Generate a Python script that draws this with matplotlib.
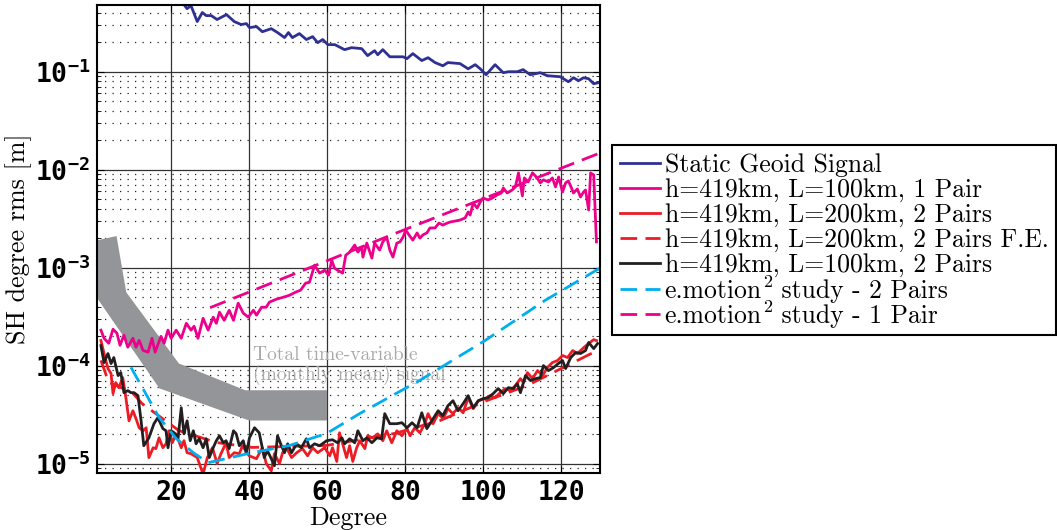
import numpy as np
import matplotlib
matplotlib.use("Agg")
import matplotlib.pyplot as plt
from matplotlib.ticker import FixedLocator, NullFormatter

plt.rcParams['mathtext.fontset'] = 'custom'
plt.rcParams['mathtext.rm'] = 'DejaVu Sans Mono:bold'
plt.rcParams['mathtext.default'] = 'rm'

# static geoid signal
geoid_deg = [22, 23.3, 24.1, 25.1, 26.7, 28.0, 29.0, 30.3, 31.8, 34.2, 36.2, 38.0, 39.3, 40.1, 41.9,
             43.4, 45.7, 47.3, 49.1, 50.1, 51.1, 52.9, 54.7, 56.3, 57.6, 58.9, 60.2, 62.0, 64.5,
             66.3, 68.9, 70.4, 72.2, 73.0, 74.3, 76.1, 79.5, 80.5, 82.0, 84.3, 85.9, 87.7, 89.7,
             91.0, 94.1, 96.2, 98.0, 99.3, 100.8, 103.1, 105.2, 106.5, 108.8, 110.3, 112.1, 114.7,
             116.5, 119.8, 121.9, 123.2, 124.5, 125.8, 127.1, 128.4, 129.4]
geoid_val = [0.56, 0.484, 0.440, 0.473, 0.325, 0.402, 0.374, 0.374, 0.341, 0.383, 0.325, 0.303, 0.310,
             0.282, 0.289, 0.256, 0.275, 0.251, 0.223, 0.251, 0.223, 0.245, 0.213, 0.228, 0.198,
             0.213, 0.189, 0.189, 0.168, 0.176, 0.172, 0.146, 0.164, 0.149, 0.168, 0.142, 0.142,
             0.136, 0.153, 0.130, 0.139, 0.124, 0.115, 0.124, 0.121, 0.107, 0.118, 0.107, 0.0932,
             0.118, 0.0977, 0.1, 0.1, 0.105, 0.0932, 0.0977, 0.091, 0.0889, 0.079, 0.0868, 0.081,
             0.0868, 0.0848, 0.0754, 0.077]

# h=419km, L=100km, 1 pair
p1_deg = [2.0, 2.8, 4.0, 5.1, 6.1, 6.9, 7.9, 8.9, 10.2, 11.0, 11.8, 12.8, 14.1, 15.1, 15.9, 17.4,
          18.2, 19.2, 20.0, 21.3, 22.6, 23.9, 25.1, 25.9, 26.9, 28.2, 29.5, 30.8, 31.6, 32.4, 33.6,
          34.9, 36.0, 37.2, 38.5, 39.8, 41.1, 41.9, 43.2, 44.4, 45.2, 47.0, 48.8, 50.4, 51.9, 53.2,
          54.5, 55.5, 56.8, 58.1, 59.4, 60.4, 61.2, 61.9, 62.7, 64.0, 64.8, 65.8, 67.1, 67.9, 68.9,
          69.2, 70.2, 71.5, 72.2, 73.5, 74.3, 75.3, 76.1, 76.9, 77.9, 78.7, 79.5, 80.2, 81.0, 82.0,
          83.1, 83.8, 84.6, 85.6, 86.4, 87.7, 88.7, 89.7, 90.8, 91.6, 92.8, 94.1, 95.4, 96.2, 96.7,
          97.5, 98.5, 99.3, 100.0, 101.3, 102.4, 103.6, 104.7, 105.2, 106.2, 107.5, 108.3, 109.1,
          110.1, 110.6, 111.6, 112.7, 113.9, 114.7, 115.5, 116.8, 117.8, 118.6, 119.4, 120.4, 121.2,
          121.9, 122.7, 123.2, 124.2, 125.0, 125.8, 126.3, 127.1, 127.6, 128.4, 129.1]
p1_val = [2.30e-4, 1.90e-4, 1.69e-4, 2.35e-4, 2.14e-4, 1.61e-4, 2.04e-4, 1.54e-4, 1.90e-4, 1.54e-4,
          1.81e-4, 1.43e-4, 1.37e-4, 1.90e-4, 1.37e-4, 1.99e-4, 1.69e-4, 2.30e-4, 1.90e-4, 2.30e-4,
          1.90e-4, 2.70e-4, 2.30e-4, 2.52e-4, 1.90e-4, 3.04e-4, 2.30e-4, 3.12e-4, 2.70e-4, 3.51e-4,
          2.90e-4, 3.67e-4, 2.90e-4, 4.34e-4, 3.43e-4, 3.12e-4, 3.67e-4, 3.27e-4, 3.94e-4, 3.94e-4,
          4.44e-4, 4.76e-4, 4.99e-4, 5.23e-4, 5.61e-4, 5.88e-4, 6.94e-4, 7.10e-4, 1.06e-3, 8.79e-4,
          9.42e-4, 8.38e-4, 1.19e-3, 9.89e-4, 9.42e-4, 8.79e-4, 1.34e-3, 1.44e-3, 1.70e-3, 1.44e-3,
          1.62e-3, 1.28e-3, 1.78e-3, 1.25e-3, 1.78e-3, 1.51e-3, 1.83e-3, 2.05e-3, 1.51e-3, 1.28e-3,
          1.78e-3, 1.83e-3, 2.05e-3, 2.42e-3, 2.16e-3, 1.91e-3, 2.26e-3, 2.00e-3, 2.16e-3, 2.26e-3,
          2.54e-3, 2.54e-3, 2.85e-3, 2.72e-3, 2.85e-3, 2.92e-3, 2.99e-3, 3.06e-3, 3.21e-3, 3.70e-3,
          3.44e-3, 4.57e-3, 4.06e-3, 4.68e-3, 5.14e-3, 4.91e-3, 5.14e-3, 5.52e-3, 5.78e-3, 6.50e-3,
          5.78e-3, 6.21e-3, 6.67e-3, 9.27e-3, 5.40e-3, 8.24e-3, 7.50e-3, 9.27e-3, 8.24e-3, 7.33e-3,
          7.86e-3, 7.50e-3, 8.24e-3, 6.67e-3, 8.43e-3, 5.92e-3, 7.33e-3, 7.67e-3, 6.50e-3, 5.78e-3,
          6.35e-3, 5.26e-3, 5.92e-3, 6.21e-3, 3.87e-3, 9.27e-3, 8.83e-3, 1.83e-3]

# h=419km, L=200km, 2 pairs
p2_deg = [2.0, 2.8, 3.8, 4.6, 5.1, 5.8, 6.6, 7.6, 8.4, 9.2, 10.2, 11.0, 11.8, 12.8, 13.6, 14.3, 15.4,
          16.1, 16.9, 17.9, 18.7, 19.5, 20.3, 21.3, 22.6, 23.3, 24.1, 25.1, 26.7, 28.2, 29.3, 30.6,
          31.8, 32.8, 34.1, 34.9, 36.2, 37.5, 38.3, 40.0, 41.9, 43.4, 44.4, 45.7, 46.5, 47.8, 48.6,
          49.6, 50.9, 52.2, 53.7, 55.0, 56.3, 57.6, 59.4, 60.7, 61.4, 62.5, 63.2, 64.0, 65.0, 65.8,
          66.6, 67.6, 68.4, 69.7, 70.4, 71.7, 73.0, 74.3, 75.3, 76.6, 77.9, 79.2, 80.5, 81.3, 82.5,
          83.8, 85.1, 85.9, 87.2, 88.5, 89.8, 91.0, 92.3, 93.6, 94.9, 96.2, 97.5, 98.8, 100.6, 101.8,
          103.1, 104.4, 105.7, 107.0, 108.3, 109.6, 110.4, 111.4, 112.7, 114.0, 115.3, 116.5, 117.8,
          119.1, 120.4, 121.7, 123.0, 124.2, 125.8, 127.1, 128.4, 129.1]
p2_val = [1.80e-4, 1.33e-4, 9.32e-5, 8.29e-5, 5.17e-5, 6.70e-5, 5.95e-5, 7.54e-5, 4.70e-5, 2.73e-5,
          3.46e-5, 2.87e-5, 2.32e-5, 2.16e-5, 2.32e-5, 1.15e-5, 1.45e-5, 1.42e-5, 1.83e-5, 1.45e-5,
          1.59e-5, 2.16e-5, 1.63e-5, 2.01e-5, 1.45e-5, 1.71e-5, 1.29e-5, 1.26e-5, 1.15e-5, 7.8e-6,
          1.15e-5, 1.45e-5, 1.0e-5, 1.26e-5, 1.63e-5, 1.15e-5, 1.29e-5, 1.26e-5, 1.52e-5, 1.20e-5,
          1.12e-5, 1.45e-5, 1.0e-5, 8.43e-6, 1.26e-5, 1.0e-5, 1.29e-5, 1.45e-5, 1.15e-5, 1.29e-5,
          1.42e-5, 1.20e-5, 1.45e-5, 1.29e-5, 1.45e-5, 1.20e-5, 1.45e-5, 1.05e-5, 2.06e-5, 1.59e-5,
          1.15e-5, 1.52e-5, 1.05e-5, 1.45e-5, 1.71e-5, 1.42e-5, 1.92e-5, 1.83e-5, 2.01e-5, 1.71e-5,
          2.16e-5, 1.63e-5, 2.16e-5, 1.92e-5, 2.27e-5, 1.92e-5, 2.32e-5, 2.06e-5, 2.55e-5, 3.23e-5,
          2.55e-5, 3.23e-5, 2.87e-5, 3.63e-5, 3.23e-5, 3.71e-5, 3.30e-5, 4.70e-5, 3.63e-5, 4.38e-5,
          4.59e-5, 4.93e-5, 4.70e-5, 5.29e-5, 5.82e-5, 5.55e-5, 6.24e-5, 7.36e-5, 6.70e-5, 8.48e-5,
          7.36e-5, 8.89e-5, 7.90e-5, 9.54e-5, 1.073e-4, 1.125e-4, 1.266e-4, 1.208e-4, 1.424e-4,
          1.327e-4, 1.52e-4, 1.68e-4, 1.84e-4, 1.80e-4]

# h=419km, L=200km, 2 pairs F.E.
fe_deg = [2, 4, 10, 12.5, 22, 31.6, 40.8, 59.9, 77.4, 89, 101.1, 111.4, 120.7, 129.4]
fe_val = [1.13e-4, 6.75e-5, 5.33e-5, 4.11e-5, 2.17e-5, 1.64e-5, 1.46e-5, 1.53e-5, 2.03e-5, 2.75e-5,
          4.41e-5, 6.28e-5, 9.60e-5, 1.43e-4]

# h=419km, L=100km, 2 pairs
p3_deg = [2.0, 2.8, 3.8, 4.6, 5.3, 6.4, 7.1, 7.9, 8.9, 9.7, 10.5, 11.5, 12.3, 13.0, 14.3, 15.6, 16.6,
          17.9, 18.7, 19.2, 20.0, 20.8, 21.8, 22.6, 23.3, 24.1, 24.9, 25.7, 26.4, 27.2, 28.2, 29.0,
          29.8, 30.8, 31.6, 32.4, 33.4, 34.1, 34.9, 36.0, 36.7, 37.5, 38.5, 39.3, 40.1, 41.4, 42.6,
          43.9, 44.7, 45.7, 46.5, 47.3, 48.3, 49.1, 49.9, 50.9, 52.2, 53.4, 54.7, 55.5, 56.8, 58.1,
          59.9, 61.4, 62.7, 63.8, 64.5, 65.8, 67.1, 67.9, 69.2, 70.2, 71.5, 72.8, 74.0, 74.8, 76.1,
          77.9, 79.2, 80.5, 81.8, 83.1, 84.3, 85.6, 87.2, 88.5, 89.7, 91.0, 92.3, 93.6, 94.9, 96.2,
          97.5, 98.8, 100.0, 101.3, 102.6, 103.9, 105.2, 106.5, 107.8, 108.8, 109.6, 110.9, 112.2,
          113.5, 114.7, 115.5, 116.8, 118.1, 119.3, 120.4, 121.2, 122.5, 123.8, 125.0, 126.3, 127.1,
          128.4, 129.4]
p3_val = [1.60e-4, 1.073e-4, 1.327e-4, 1.048e-4, 1.208e-4, 7.90e-5, 8.48e-5, 5.29e-5, 5.55e-5,
          5.29e-5, 5.29e-5, 4.93e-5, 2.73e-5, 1.52e-5, 1.83e-5, 2.55e-5, 2.94e-5, 2.27e-5, 2.16e-5,
          1.45e-5, 2.16e-5, 2.06e-5, 1.83e-5, 3.71e-5, 2.01e-5, 2.73e-5, 1.71e-5, 2.16e-5, 1.59e-5,
          1.79e-5, 1.45e-5, 1.79e-5, 1.15e-5, 1.45e-5, 1.71e-5, 1.92e-5, 1.63e-5, 1.71e-5, 1.42e-5,
          2.16e-5, 2.01e-5, 1.52e-5, 1.71e-5, 1.26e-5, 1.83e-5, 2.32e-5, 2.06e-5, 1.15e-5, 1.35e-5,
          1.12e-5, 9.5e-6, 1.92e-5, 1.52e-5, 1.29e-5, 1.59e-5, 1.29e-5, 1.59e-5, 1.45e-5, 1.79e-5,
          1.45e-5, 1.59e-5, 1.52e-5, 1.71e-5, 1.75e-5, 1.63e-5, 1.83e-5, 1.59e-5, 1.79e-5, 1.63e-5,
          2.16e-5, 1.71e-5, 1.83e-5, 1.63e-5, 1.83e-5, 1.79e-5, 3.23e-5, 2.55e-5, 2.55e-5, 2.61e-5,
          2.32e-5, 2.61e-5, 2.32e-5, 3.30e-5, 2.27e-5, 2.87e-5, 3.46e-5, 3.08e-5, 3.89e-5, 4.38e-5,
          3.46e-5, 4.08e-5, 4.93e-5, 3.71e-5, 4.38e-5, 4.59e-5, 4.70e-5, 5.17e-5, 5.82e-5, 5.17e-5,
          5.95e-5, 5.82e-5, 6.54e-5, 5.29e-5, 7.90e-5, 7.02e-5, 7.36e-5, 7.54e-5, 1.0e-4, 8.89e-5,
          9.54e-5, 1.048e-4, 1.125e-4, 9.32e-5, 1.208e-4, 1.358e-4, 1.327e-4, 1.424e-4, 1.72e-4,
          1.49e-4, 1.68e-4]

# e.motion^2 study
em2_deg = [9.7, 16.9, 21.3, 25.7, 29.5, 40.0, 50.4, 59.9, 68.4, 83.8, 100.6, 116.0, 130.0]
em2_val = [9.6e-5, 2.96e-5, 1.80e-5, 1.29e-5, 1.02e-5, 1.27e-5, 1.53e-5, 2.03e-5, 3.24e-5, 7.07e-5,
           1.81e-4, 4.65e-4, 9.89e-4]
em1_deg = [30, 80, 130]
em1_val = [3.9e-4, 2.45e-3, 1.48e-2]

# total time-variable signal band
band_up_deg = [1, 6, 8.5, 22, 39, 60]
band_up = [1.9e-3, 2.1e-3, 5.6e-4, 1.05e-4, 5.6e-5, 5.6e-5]
band_lo_deg = [1, 17, 40, 60]
band_lo = [4.9e-4, 5.85e-5, 2.75e-5, 2.75e-5]

yticks = [1e-5, 1e-4, 1e-3, 1e-2, 1e-1]
ytick_labels = [r'$10^{-5}$', r'$10^{-4}$', r'$10^{-3}$', r'$10^{-2}$', r'$10^{-1}$']
xticks = [20, 40, 60, 80, 100, 120]
em_tails = [' study - 2 Pairs', ' study - 1 Pair']

serif = ['cmr10', 'DejaVu Serif']
leg_size = 18.5

fig = plt.figure(figsize=(10.57, 5.30), dpi=100)
ax = fig.add_axes([0.0918, 0.1075, 0.4758, 0.8831])

ax.fill(band_up_deg + band_lo_deg[::-1], band_up + band_lo[::-1],
        color='#939598', lw=0, zorder=1.5)

lw = 2.0
dash = (6, 3)
ax.plot(geoid_deg, geoid_val, color='#2e3192', lw=lw, label='Static Geoid Signal')
ax.plot(p1_deg, p1_val, color='#ec008c', lw=lw, label='h=419km, L=100km, 1 Pair')
ax.plot(p2_deg, p2_val, color='#ed1c24', lw=lw, label='h=419km, L=200km, 2 Pairs')
ax.plot(fe_deg, fe_val, color='#ed1c24', lw=lw, dashes=dash,
        label='h=419km, L=200km, 2 Pairs F.E.')
ax.plot(p3_deg, p3_val, color='#231f20', lw=lw, label='h=419km, L=100km, 2 Pairs')
# superscript 2 and the rest of the label are added after layout (cmr10 lacks '²')
ax.plot(em2_deg, em2_val, color='#00aeef', lw=lw, dashes=dash, label='e.motion')
ax.plot(em1_deg, em1_val, color='#ec008c', lw=lw, dashes=dash, label='e.motion')

ax.text(41, 1.0e-4, 'Total time-variable\n(monthly mean) signal', color='#a7a9ac',
        fontsize=14, family=serif, va='center', ha='left', linespacing=1.1, zorder=1.6)

ax.set_yscale('log')
ax.set_xlim(1, 130)
ax.set_ylim(8e-6, 0.48)
ax.set_axisbelow(True)

ax.yaxis.set_major_locator(FixedLocator(yticks))
ax.set_yticklabels(ytick_labels, fontsize=19)
ax.yaxis.set_minor_locator(FixedLocator([m * 10.0 ** e for e in range(-6, 0) for m in range(2, 10)]))
ax.yaxis.set_minor_formatter(NullFormatter())
ax.set_xticks(xticks)
ax.set_xticklabels([str(t) for t in xticks], fontsize=19, family='DejaVu Sans Mono', weight='bold')

ax.grid(True, which='major', color='#333333', lw=0.9, ls='-')
ax.grid(True, which='minor', axis='y', color='#222222', lw=0.9, ls=(0, (1, 5)))
ax.tick_params(which='both', direction='in', right=True, top=True, pad=5)
ax.tick_params(which='major', length=5)
ax.tick_params(which='minor', length=3)
for s in ax.spines.values():
    s.set_linewidth(1.5)

ax.set_xlabel('Degree', fontsize=18.7, family=serif, labelpad=0)
ax.set_ylabel('SH degree rms [m]', fontsize=18.7, family=serif)
ax.yaxis.set_label_coords(-0.129, 0.5)

leg = fig.legend(loc='upper left', bbox_to_anchor=(0.579, 0.726), borderaxespad=0,
                 prop={'family': serif, 'size': leg_size}, frameon=True, fancybox=False,
                 framealpha=1, edgecolor='black', handlelength=1.55, handletextpad=0.2,
                 labelspacing=0.05, borderpad=0.3)
leg.get_frame().set_linewidth(1.5)

# add "²" and the rest of the text to the two e.motion legend entries
fig.canvas.draw()
renderer = fig.canvas.get_renderer()
W, H = fig.bbox.width, fig.bbox.height
fs_px = leg_size * fig.dpi / 72.0
for t, tail in zip(leg.get_texts()[5:7], em_tails):
    bb = t.get_window_extent(renderer)
    prop = t.get_fontproperties()
    w = renderer.get_text_width_height_descent('e.motion', prop, ismath=False)[0]
    d = renderer.get_text_width_height_descent('lp', prop, ismath=False)[2]
    base = bb.y0 + d
    sup = fig.text((bb.x0 + w + 1) / W, (base + 0.42 * fs_px) / H, '2', family=serif,
                   fontsize=leg_size * 0.7, ha='left', va='baseline', zorder=10)
    sb = sup.get_window_extent(renderer)
    fig.text((sb.x1 + 1) / W, base / H, tail, family=serif, fontsize=leg_size,
             ha='left', va='baseline', zorder=10)

fig.savefig('out.png', dpi=100)
